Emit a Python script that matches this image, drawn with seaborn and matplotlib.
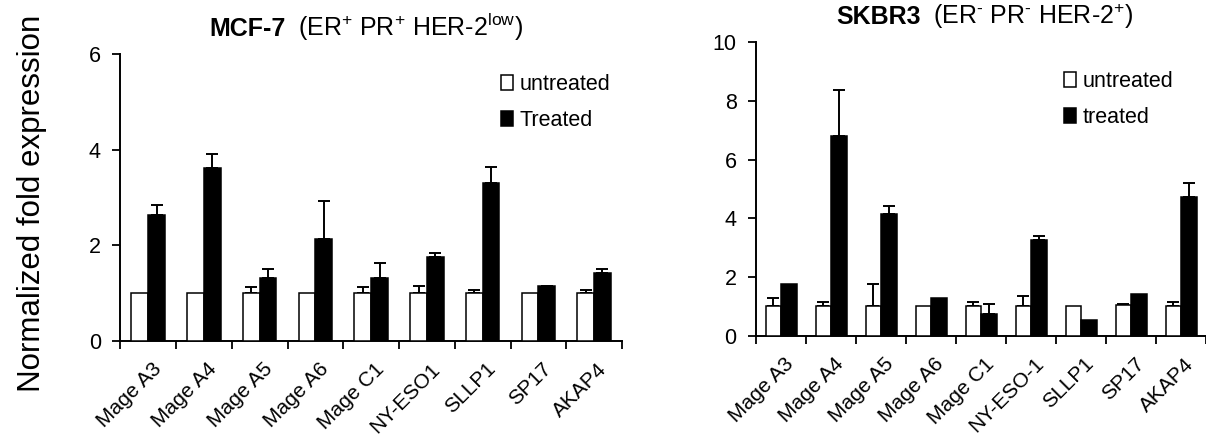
import numpy as np
import pandas as pd
import matplotlib
matplotlib.use("Agg")
import matplotlib.pyplot as plt
import matplotlib.transforms as mtransforms
from matplotlib.offsetbox import TextArea, HPacker, AnchoredOffsetbox
import seaborn as sns

# ---- data -------------------------------------------------------------
mcf7_genes = ["Mage A3", "Mage A4", "Mage A5", "Mage A6", "Mage C1",
              "NY-ESO1", "SLLP1", "SP17", "AKAP4"]
mcf7_untreated = [1.00, 1.00, 1.00, 1.00, 1.00, 1.00, 1.00, 1.00, 1.00]
mcf7_untreated_err = [0.00, 0.00, 0.13, 0.00, 0.13, 0.16, 0.07, 0.00, 0.07]
mcf7_treated = [2.64, 3.61, 1.31, 2.14, 1.31, 1.75, 3.31, 1.14, 1.42]
mcf7_treated_err = [0.21, 0.29, 0.20, 0.79, 0.33, 0.08, 0.33, 0.01, 0.08]
mcf7_conditions = ["untreated", "Treated"]

skbr3_genes = ["Mage A3", "Mage A4", "Mage A5", "Mage A6", "Mage C1",
               "NY-ESO-1", "SLLP1", "SP17", "AKAP4"]
skbr3_untreated = [1.02, 1.02, 1.02, 1.02, 1.02, 1.02, 1.02, 1.05, 1.02]
skbr3_untreated_err = [0.27, 0.14, 0.76, 0.00, 0.14, 0.35, 0.00, 0.03, 0.14]
skbr3_treated = [1.77, 6.80, 4.15, 1.28, 0.75, 3.27, 0.54, 1.43, 4.72]
skbr3_treated_err = [0.00, 1.56, 0.27, 0.00, 0.33, 0.13, 0.00, 0.00, 0.50]
skbr3_conditions = ["untreated", "treated"]

# ---- style ------------------------------------------------------------
sns.set_theme(style="ticks")
plt.rcParams["font.family"] = ["Liberation Sans", "DejaVu Sans"]
plt.rcParams["mathtext.fontset"] = "custom"
plt.rcParams["mathtext.rm"] = "Liberation Sans"
plt.rcParams["mathtext.it"] = "Liberation Sans:italic"
plt.rcParams["mathtext.bf"] = "Liberation Sans:bold"
plt.rcParams["text.color"] = "black"
plt.rcParams["axes.edgecolor"] = "black"
plt.rcParams["xtick.color"] = "black"
plt.rcParams["ytick.color"] = "black"

W, H = 1206, 436
fig = plt.figure(figsize=(W / 100, H / 100), dpi=100)


def px_axes(x0, x1, y_top, y_bot):
    return fig.add_axes([x0 / W, 1 - y_bot / H, (x1 - x0) / W, (y_bot - y_top) / H])


def draw_panel(ax, genes, unt, unt_err, trt, trt_err, conds, ymax, yticks, width):
    df = pd.DataFrame({
        "gene": genes * 2,
        "condition": [conds[0]] * len(genes) + [conds[1]] * len(genes),
        "value": list(unt) + list(trt),
    })
    sns.barplot(data=df, x="gene", y="value", hue="condition",
                order=genes, hue_order=conds,
                palette=["white", "black"], edgecolor="black", linewidth=1.1,
                width=width, gap=0, errorbar=None, ax=ax, zorder=3)

    # one-sided (upper) error bars on each bar
    for container, errs in zip(ax.containers, [unt_err, trt_err]):
        for bar, e in zip(container.patches, errs):
            if e <= 0:
                continue
            xc = bar.get_x() + bar.get_width() / 2
            ax.errorbar([xc], [bar.get_height()], yerr=[[0], [e]], fmt="none",
                        ecolor="black", elinewidth=1.4, capsize=4.3,
                        capthick=1.4, zorder=2)

    ax.set_xlim(-0.5, len(genes) - 0.5)
    ax.set_ylim(0, ymax)
    ax.set_yticks(yticks)
    ax.set_xticks(range(len(genes)))
    ax.set_xticks(np.arange(-0.5, len(genes), 1.0), minor=True)
    ax.set_xticklabels(genes, rotation=45, ha="right", va="center",
                       rotation_mode="anchor", fontsize=15)
    ax.tick_params(axis="x", which="major", length=0, pad=18)
    ax.tick_params(axis="x", which="minor", length=6, width=1.3, direction="out")
    ax.tick_params(axis="y", length=6, width=1.3, direction="out", pad=8,
                   labelsize=15.5)
    shift = mtransforms.ScaledTranslation(10 / 100, 0, fig.dpi_scale_trans)
    for lab in ax.get_xticklabels():
        lab.set_transform(lab.get_transform() + shift)
    for side in ("top", "right"):
        ax.spines[side].set_visible(False)
    for side in ("left", "bottom"):
        ax.spines[side].set_linewidth(1.4)
    ax.set_xlabel("")
    ax.set_ylabel("")
    ax.set_facecolor("white")


def legend_at(ax, x_px, y_px):
    handles, labels = ax.get_legend_handles_labels()
    ax.legend(handles, labels, loc="upper left",
              bbox_to_anchor=(x_px / W, 1 - y_px / H),
              bbox_transform=fig.transFigure, frameon=False, fontsize=15.5,
              handlelength=0.55, handleheight=0.65, handletextpad=0.3,
              labelspacing=0.7, borderpad=0, borderaxespad=0)


def title_at(parts, x_px, y_px):
    boxes = [TextArea(txt, textprops=dict(fontsize=18, fontweight=wt, color="black"))
             for txt, wt in parts]
    pack = HPacker(children=boxes, align="baseline", pad=0, sep=9)
    anchored = AnchoredOffsetbox(loc="lower center", child=pack, pad=0,
                                 borderpad=0, frameon=False,
                                 bbox_to_anchor=(x_px / W, 1 - y_px / H),
                                 bbox_transform=fig.transFigure)
    fig.add_artist(anchored)


# ---- left panel: MCF-7 ------------------------------------------------
ax1 = px_axes(120.3, 622, 54, 341)
draw_panel(ax1, mcf7_genes, mcf7_untreated, mcf7_untreated_err,
           mcf7_treated, mcf7_treated_err, mcf7_conditions,
           6, [0, 2, 4, 6], 0.6)
legend_at(ax1, 501, 74)
title_at([("MCF-7", "bold"),
          (r"(ER$^{+}$ PR$^{+}$ HER-2$^{\mathrm{low}}$)", "normal")], 366, 43)

# ---- right panel: SKBR3 -----------------------------------------------
ax2 = px_axes(756, 1206, 42, 336)
draw_panel(ax2, skbr3_genes, skbr3_untreated, skbr3_untreated_err,
           skbr3_treated, skbr3_treated_err, skbr3_conditions,
           10, [0, 2, 4, 6, 8, 10], 0.62)
legend_at(ax2, 1064, 71)
title_at([("SKBR3", "bold"),
          (r"(ER$^{\text{-}}$ PR$^{\text{-}}$ HER-2$^{+}$)", "normal")], 985, 31)

fig.text(32 / W, 1 - 203 / H, "Normalized fold expression", rotation=90,
         ha="center", va="center", fontsize=22.5, color="black")

fig.savefig("out.png", dpi=100, facecolor="white")
